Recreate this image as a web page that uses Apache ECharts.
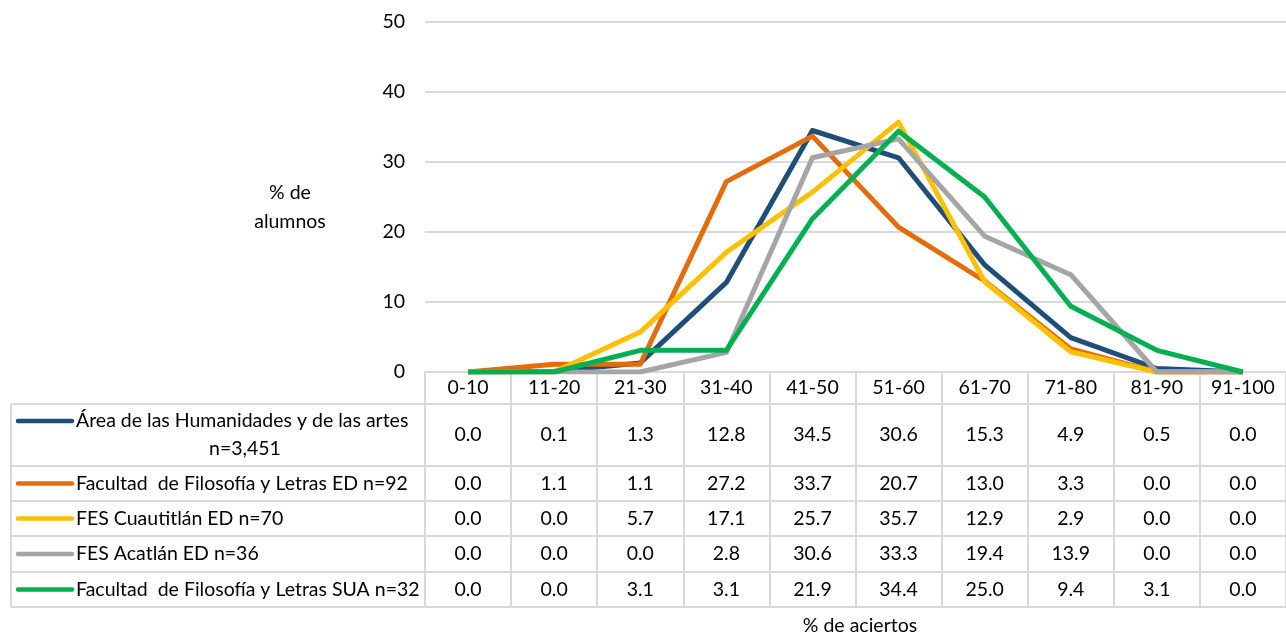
<!DOCTYPE html>
<html>
<head>
<meta charset="utf-8">
<script src="https://cdn.jsdelivr.net/npm/echarts@6/dist/echarts.min.js"></script>
<style>
html,body{margin:0;padding:0;background:#fff;}
#chart{width:1286px;height:635px;}
</style>
</head>
<body>
<div id="chart"></div>
<script>
const categories = ['0-10','11-20','21-30','31-40','41-50','51-60','61-70','71-80','81-90','91-100'];
const yTicks = [0,10,20,30,40,50];
const seriesNames = [
  'Área de las Humanidades y de las artes n=3,451',
  'Facultad  de Filosofía y Letras ED n=92',
  'FES Cuautitlán ED n=70',
  'FES Acatlán ED n=36',
  'Facultad  de Filosofía y Letras SUA n=32'
];
const humanidades = [0.0, 0.1, 1.3, 12.8, 34.5, 30.6, 15.3, 4.9, 0.5, 0.0];
const filosofiaED = [0.0, 1.1, 1.1, 27.2, 33.7, 20.7, 13.0, 3.3, 0.0, 0.0];
const cuautitlan  = [0.0, 0.0, 5.7, 17.1, 25.7, 35.7, 12.9, 2.9, 0.0, 0.0];
const acatlan     = [0.0, 0.0, 0.0, 2.8, 30.6, 33.3, 19.4, 13.9, 0.0, 0.0];
const filosofiaSUA= [0.0, 0.0, 3.1, 3.1, 21.9, 34.4, 25.0, 9.4, 3.1, 0.0];
const allSeries = [humanidades, filosofiaED, cuautitlan, acatlan, filosofiaSUA];
const colors = ['#1F4E79', '#E46C0A', '#FFC000', '#A5A5A5', '#00B050'];

const FONT = 'Lato';
const FS = 19.5;
const TXT = '#000000';
const GRID_COL = '#D9D9D9';

// layout (pixels)
const axisY = 372;
const headerBottom = 404;
const rowBounds = [404, 466, 501, 536, 572, 607];
const tableLeft = 11;
const gridLeft = 425;

const chart = echarts.init(document.getElementById('chart'), null, {renderer: 'canvas'});

const xAxes = [{
  type: 'category',
  data: categories,
  position: 'bottom',
  offset: 0,
  axisLine: {show: true, lineStyle: {color: GRID_COL, width: 2}},
  axisTick: {show: true, interval: 0, length: rowBounds[5] - axisY, lineStyle: {color: GRID_COL, width: 2}},
  axisLabel: {interval: 0, margin: (headerBottom - axisY) / 2, verticalAlign: 'middle', color: TXT, fontFamily: FONT, fontSize: FS}
}];
allSeries.forEach((vals, i) => {
  const top = rowBounds[i], bot = rowBounds[i + 1];
  xAxes.push({
    type: 'category',
    data: vals.map(v => v.toFixed(1)),
    position: 'bottom',
    offset: top - axisY,
    axisLine: {show: false},
    axisTick: {show: false},
    axisLabel: {interval: 0, margin: (bot - top) / 2, verticalAlign: 'middle', color: TXT, fontFamily: FONT, fontSize: FS}
  });
});

const graphics = [];
// horizontal table lines across full width
rowBounds.forEach(y => {
  graphics.push({type: 'line', silent: true, shape: {x1: tableLeft, y1: y, x2: 1300, y2: y}, style: {stroke: GRID_COL, lineWidth: 2}});
});
// left vertical border
graphics.push({type: 'line', silent: true, shape: {x1: tableLeft, y1: rowBounds[0], x2: tableLeft, y2: rowBounds[5]}, style: {stroke: GRID_COL, lineWidth: 2}});
// legend keys and names
seriesNames.forEach((name, i) => {
  const cy = (rowBounds[i] + rowBounds[i + 1]) / 2;
  let keyY = cy;
  if (i === 0) keyY = 421;
  graphics.push({type: 'line', silent: true, shape: {x1: 18, y1: keyY, x2: 72, y2: keyY}, style: {stroke: colors[i], lineWidth: 4.5, lineCap: 'round'}});
  if (i === 0) {
    graphics.push({type: 'text', silent: true, x: 76, y: 421, style: {text: 'Área de las Humanidades y de las artes', font: FS + 'px ' + FONT, fill: TXT, textAlign: 'left', textVerticalAlign: 'middle'}});
    graphics.push({type: 'text', silent: true, x: 245, y: 449, style: {text: 'n=3,451', font: FS + 'px ' + FONT, fill: TXT, textAlign: 'center', textVerticalAlign: 'middle'}});
  } else {
    graphics.push({type: 'text', silent: true, x: 76, y: cy, style: {text: name, font: FS + 'px ' + FONT, fill: TXT, textAlign: 'left', textVerticalAlign: 'middle'}});
  }
});
// axis titles
graphics.push({type: 'text', silent: true, x: 290, y: 193, style: {text: '% de', font: FS + 'px ' + FONT, fill: TXT, textAlign: 'center', textVerticalAlign: 'middle'}});
graphics.push({type: 'text', silent: true, x: 290, y: 222, style: {text: 'alumnos', font: FS + 'px ' + FONT, fill: TXT, textAlign: 'center', textVerticalAlign: 'middle'}});
graphics.push({type: 'text', silent: true, x: 860, y: 626, style: {text: '% de aciertos', font: FS + 'px ' + FONT, fill: TXT, textAlign: 'center', textVerticalAlign: 'middle'}});

const option = {
  backgroundColor: '#ffffff',
  animation: false,
  grid: {left: gridLeft, top: 22, right: -10, bottom: 635 - axisY, containLabel: false},
  xAxis: xAxes,
  yAxis: {
    type: 'value', min: yTicks[0], max: yTicks[yTicks.length - 1], interval: 10,
    axisLine: {show: false}, axisTick: {show: false},
    splitLine: {show: true, lineStyle: {color: GRID_COL, width: 2}},
    axisLabel: {margin: 20, color: TXT, fontFamily: FONT, fontSize: FS}
  },
  series: allSeries.map((vals, i) => ({
    name: seriesNames[i],
    type: 'line',
    xAxisIndex: 0,
    data: vals,
    symbol: 'none',
    smooth: false,
    lineStyle: {color: colors[i], width: 5, join: 'round'},
    itemStyle: {color: colors[i]}
  })),
  graphic: graphics
};
chart.setOption(option);
</script>
</body>
</html>
